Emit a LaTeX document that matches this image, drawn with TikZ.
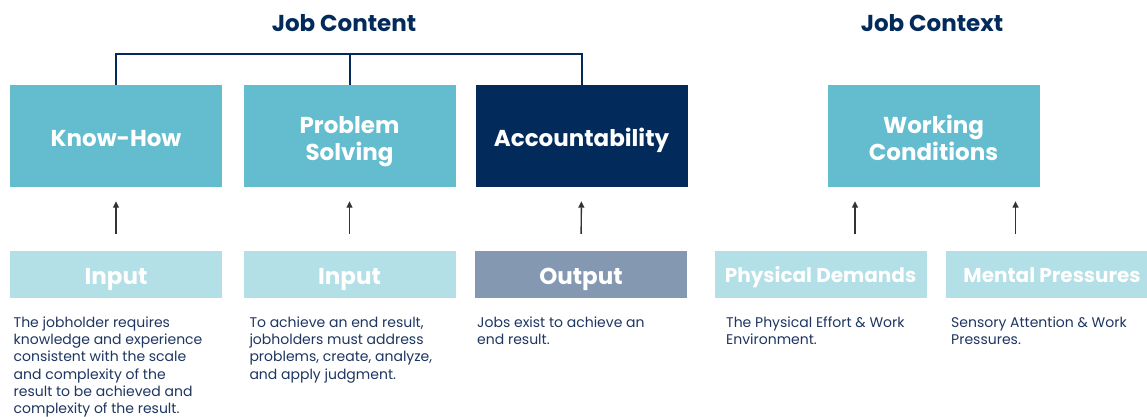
\documentclass[tikz,border=0pt]{standalone}
\usepackage{fontspec}
\setmainfont{Poppins}
\usetikzlibrary{arrows.meta}
\definecolor{teal1}{HTML}{63BDCF}
\definecolor{pale}{HTML}{B3DFE7}
\definecolor{navy}{HTML}{022B5B}
\definecolor{slate}{HTML}{8598B1}
\definecolor{ink}{HTML}{1E3662}
\definecolor{arrowgray}{HTML}{333333}
\begin{document}
\begin{tikzpicture}[x=1pt,y=-1pt,
  topbox/.style={rectangle, fill=teal1, minimum width=212pt, minimum height=102pt,
    inner sep=0pt, text=white, align=center, text height=20pt, text depth=0pt,
    font=\fontsize{23}{27}\selectfont\bfseries},
  twoline/.style={text height=48pt, text depth=0pt},
  lowbox/.style={rectangle, fill=pale, minimum width=212pt, minimum height=47pt,
    inner sep=0pt, text=white, text height=19pt, text depth=0pt,
    font=\fontsize{23}{27}\selectfont\bfseries},
  smalllabel/.style={text height=16.4pt, font=\fontsize{20}{24}\selectfont\bfseries},
  desc/.style={anchor=base west, inner sep=0pt, text=ink, align=left,
    font=\fontsize{14}{17.1}\selectfont},
  heading/.style={text=navy, inner sep=0pt, font=\fontsize{23}{26}\selectfont\bfseries},
  link/.style={draw=navy, line width=2pt},
  up/.style={draw=arrowgray, line width=1.4pt, shorten <=17pt, shorten >=14pt,
    -{Triangle[length=6.5pt,width=6pt]}}
]
\fill[white] (0,0) rectangle (1147,417);
\useasboundingbox (0,0) rectangle (1147,417);
\clip (0,0) rectangle (1147,417);

% headings
\node[heading, anchor=base] (hcontent) at (344,31.7) {Job Content};
\node[heading, anchor=base] (hcontext) at (932,31.7) {Job Context};

% factor boxes
\node[topbox] (kh) at (116,136) {Know-How};
\node[topbox, twoline] (ps) at (349.5,136) {Problem\\Solving};
\node[topbox, fill=navy] (acc) at (581.5,136) {Accountability};
\node[topbox, twoline] (wc) at (933.5,136) {Working\\Conditions};

% input / output bars
\node[lowbox] (in1) at (116,274.5) {Input};
\node[lowbox] (in2) at (349.5,274.5) {Input};
\node[lowbox, fill=slate] (out) at (581,274.5) {Output};
\node[lowbox, smalllabel] (pd) at (820.5,274.5) {Physical Demands};
\node[lowbox, smalllabel] (mp) at (1052,274.5) {Mental Pressures};

% bracket over the job content factors
\coordinate (bar) at (0,54);
\draw[link] (kh.north) -- (kh.north |- bar) -- (acc.north |- bar) -- (acc.north);
\draw[link] (ps.north) -- (ps.north |- bar);

% arrows
\coordinate (c4) at (855,0);
\coordinate (c5) at (1015.5,0);
\draw[up] (in1.north) -- (kh.south);
\draw[up] (in2.north) -- (ps.south);
\draw[up] (out.north) -- (acc.south);
\draw[up] (pd.north -| c4) -- (wc.south -| c4);
\draw[up] (mp.north -| c5) -- (wc.south -| c5);

% descriptions (placed by the baseline of their last line; first line at 327.7)
\node[desc] (d1) at (13.5,413.2) {The jobholder requires\\knowledge and experience\\consistent with the scale\\and complexity of the\\result to be achieved and\\complexity of the result.};
\node[desc] (d2) at (249.3,379.0) {To achieve an end result,\\jobholders must address\\problems, create, analyze,\\and apply judgment.};
\node[desc] (d3) at (477,344.8) {Jobs exist to achieve an\\end result.};
\node[desc] (d4) at (726,344.8) {The Physical Effort \& Work\\Environment.};
\node[desc] (d5) at (951,344.8) {Sensory Attention \& Work\\Pressures.};
\end{tikzpicture}
\end{document}
